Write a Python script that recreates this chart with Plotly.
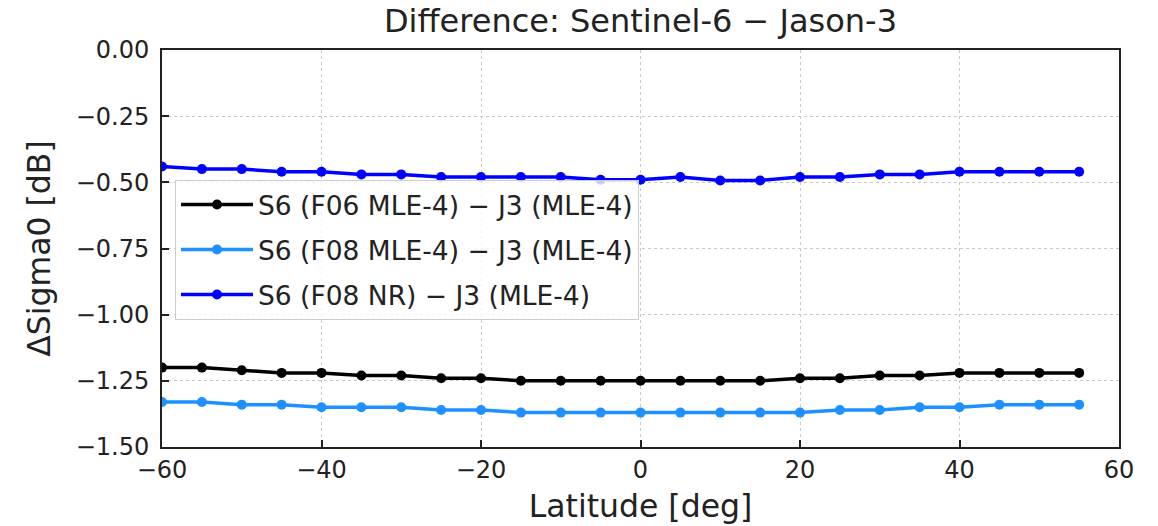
import plotly.graph_objects as go

latitude = [-60, -55, -50, -45, -40, -35, -30, -25, -20, -15, -10, -5,
            0, 5, 10, 15, 20, 25, 30, 35, 40, 45, 50, 55]

s6_f06_mle4 = [-1.20, -1.20, -1.21, -1.22, -1.22, -1.23, -1.23, -1.24, -1.24, -1.25, -1.25, -1.25,
               -1.25, -1.25, -1.25, -1.25, -1.24, -1.24, -1.23, -1.23, -1.22, -1.22, -1.22, -1.22]
s6_f08_mle4 = [-1.33, -1.33, -1.34, -1.34, -1.35, -1.35, -1.35, -1.36, -1.36, -1.37, -1.37, -1.37,
               -1.37, -1.37, -1.37, -1.37, -1.37, -1.36, -1.36, -1.35, -1.35, -1.34, -1.34, -1.34]
s6_f08_nr = [-0.44, -0.45, -0.45, -0.46, -0.46, -0.47, -0.47, -0.48, -0.48, -0.48, -0.48, -0.49,
             -0.49, -0.48, -0.493, -0.493, -0.48, -0.48, -0.47, -0.47, -0.46, -0.46, -0.46, -0.46]

series_names = ["S6 (F06 MLE-4) \u2212 J3 (MLE-4)",
                "S6 (F08 MLE-4) \u2212 J3 (MLE-4)",
                "S6 (F08 NR) \u2212 J3 (MLE-4)"]
series_values = [s6_f06_mle4, s6_f08_mle4, s6_f08_nr]
series_colors = ["#000000", "#1E90FF", "#0000FF"]

x_ticks = [-60, -40, -20, 0, 20, 40, 60]
y_ticks = [0.0, -0.25, -0.5, -0.75, -1.0, -1.25, -1.5]

FONT = "DejaVu Sans"

fig = go.Figure()
for i, (name, vals, col) in enumerate(zip(series_names, series_values, series_colors)):
    fig.add_trace(go.Scatter(
        x=latitude, y=vals, name=name, mode="lines+markers",
        legendgroup=f"g{i}",
        line=dict(color=col, width=3.5),
        marker=dict(color=col, size=10),
    ))

axis_common = dict(
    showline=True, linecolor="#222222", linewidth=2, mirror=True,
    ticks="inside", ticklen=7, tickwidth=1.5, tickcolor="#222222",
    showgrid=True, gridcolor="#c8c8c8", gridwidth=1, griddash="dot",
    zeroline=False, automargin=False,
    tickfont=dict(family=FONT, size=24, color="#222222"),
)

fig.update_layout(
    width=1158, height=526,
    margin=dict(l=162, r=39, t=50, b=79),
    paper_bgcolor="white", plot_bgcolor="white",
    font=dict(family=FONT, color="#222222"),
    title=dict(text="Difference: Sentinel-6 \u2212 Jason-3",
               font=dict(family=FONT, size=32, color="#222222"),
               x=0.5, xref="paper", xanchor="center",
               y=1 - 21 / 526, yref="container", yanchor="middle"),
    xaxis=dict(range=[-60, 60], tickvals=x_ticks,
               title=dict(text="Latitude [deg]", font=dict(family=FONT, size=31.5), standoff=12),
               **axis_common),
    yaxis=dict(range=[-1.5, 0], tickvals=y_ticks, tickformat=".2f",
               ticklabelstandoff=6,
               title=dict(text="\u0394Sigma0 [dB]", font=dict(family=FONT, size=31.5), standoff=16),
               **axis_common),
    legend=dict(x=0.0136, y=0.673, xanchor="left", yanchor="top",
                bgcolor="rgba(255,255,255,0.8)", bordercolor="#cccccc", borderwidth=1,
                font=dict(family=FONT, size=26.5, color="#222222"),
                itemwidth=72, traceorder="grouped", tracegroupgap=7.5),
    showlegend=True,
)

fig.write_html("out.html")
